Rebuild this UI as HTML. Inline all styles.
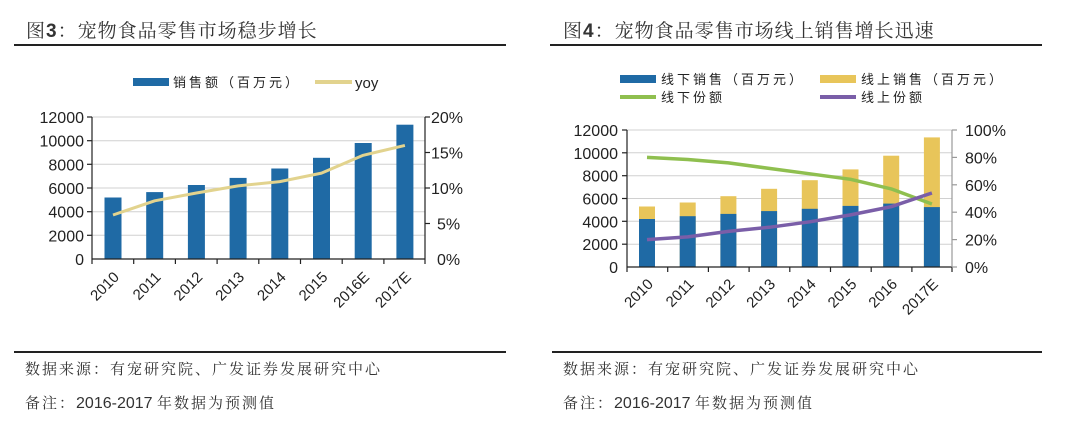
<!DOCTYPE html>
<html><head><meta charset="utf-8"><style>
body{margin:0;background:#fff;}
svg{display:block;font-family:"Liberation Sans","Noto Sans CJK SC",sans-serif;}
</style></head><body>
<svg width="1080" height="433" viewBox="0 0 1080 433" xmlns="http://www.w3.org/2000/svg">
<rect width="1080" height="433" fill="#fff"/>
<!-- Titles -->
<text x="26" y="37" font-size="19" fill="#333" font-family="'Noto Serif CJK SC','Noto Sans CJK SC',serif" letter-spacing="1">图<tspan font-weight="bold" font-family="'Liberation Sans',sans-serif">3</tspan>：宠物食品零售市场稳步增长</text>
<line x1="14" y1="45" x2="506" y2="45" stroke="#222" stroke-width="2"/>
<text x="563" y="37" font-size="19" fill="#333" font-family="'Noto Serif CJK SC','Noto Sans CJK SC',serif" letter-spacing="1">图<tspan font-weight="bold" font-family="'Liberation Sans',sans-serif">4</tspan>：宠物食品零售市场线上销售增长迅速</text>
<line x1="550" y1="45" x2="1042" y2="45" stroke="#222" stroke-width="2"/>

<!-- LEFT CHART -->
<g stroke="#d0d0d0" stroke-width="1">
<line x1="92" y1="235.3" x2="425" y2="235.3"/><line x1="92" y1="211.7" x2="425" y2="211.7"/><line x1="92" y1="188" x2="425" y2="188"/><line x1="92" y1="164.3" x2="425" y2="164.3"/><line x1="92" y1="140.7" x2="425" y2="140.7"/><line x1="92" y1="117" x2="425" y2="117"/>
</g>
<g fill="#1f6aa5">
<rect x="104.5" y="197.5" width="17" height="61.5"/>
<rect x="146.2" y="192.1" width="17" height="66.9"/>
<rect x="187.9" y="185" width="17" height="74"/>
<rect x="229.6" y="177.9" width="17" height="81.1"/>
<rect x="271.3" y="168.5" width="17" height="90.5"/>
<rect x="313" y="157.8" width="17" height="101.2"/>
<rect x="354.7" y="143" width="17" height="116"/>
<rect x="396.4" y="124.7" width="17" height="134.3"/>
</g>
<polyline points="113,215 154.7,200.8 196.4,193 238.1,185.9 279.8,181.6 321.5,173.1 363.2,155.3 404.9,145.4" fill="none" stroke="#e2d38e" stroke-width="3" stroke-linejoin="round"/>
<g stroke="#222" stroke-width="1.2">
<line x1="92" y1="117" x2="92" y2="259"/><line x1="425" y1="117" x2="425" y2="259"/><line x1="92" y1="259" x2="425" y2="259"/>
<line x1="92" y1="259" x2="92" y2="264"/><line x1="133.7" y1="259" x2="133.7" y2="264"/><line x1="175.4" y1="259" x2="175.4" y2="264"/><line x1="217.1" y1="259" x2="217.1" y2="264"/><line x1="258.8" y1="259" x2="258.8" y2="264"/><line x1="300.5" y1="259" x2="300.5" y2="264"/><line x1="342.2" y1="259" x2="342.2" y2="264"/><line x1="383.9" y1="259" x2="383.9" y2="264"/><line x1="425" y1="259" x2="425" y2="264"/>
<line x1="87" y1="117" x2="92" y2="117"/><line x1="87" y1="140.7" x2="92" y2="140.7"/><line x1="87" y1="164.3" x2="92" y2="164.3"/><line x1="87" y1="188" x2="92" y2="188"/><line x1="87" y1="211.7" x2="92" y2="211.7"/><line x1="87" y1="235.3" x2="92" y2="235.3"/>
<line x1="425" y1="117" x2="430" y2="117"/><line x1="425" y1="152.5" x2="430" y2="152.5"/><line x1="425" y1="188" x2="430" y2="188"/><line x1="425" y1="223.5" x2="430" y2="223.5"/>
</g>
<g font-size="16" fill="#222" text-anchor="end">
<text x="84" y="265">0</text><text x="84" y="241.3">2000</text><text x="84" y="217.7">4000</text><text x="84" y="194">6000</text><text x="84" y="170.3">8000</text><text x="84" y="146.7">10000</text><text x="84" y="123">12000</text>
</g>
<g font-size="16" fill="#222">
<text x="437" y="265">0%</text><text x="437" y="229.5">5%</text><text x="431" y="194">10%</text><text x="431" y="158.5">15%</text><text x="431" y="123">20%</text>
</g>
<g font-size="15" fill="#222" text-anchor="end">
<text transform="translate(120,278) rotate(-45)">2010</text>
<text transform="translate(161.7,278) rotate(-45)">2011</text>
<text transform="translate(203.4,278) rotate(-45)">2012</text>
<text transform="translate(245.1,278) rotate(-45)">2013</text>
<text transform="translate(286.8,278) rotate(-45)">2014</text>
<text transform="translate(328.5,278) rotate(-45)">2015</text>
<text transform="translate(370.2,278) rotate(-45)">2016E</text>
<text transform="translate(411.9,278) rotate(-45)">2017E</text>
</g>
<rect x="133" y="78" width="36" height="8" fill="#1f6aa5"/>
<text x="173" y="87" font-size="13" fill="#222" font-family="'Noto Sans CJK SC',sans-serif" letter-spacing="3">销售额（百万元）</text>
<line x1="315" y1="82" x2="352" y2="82" stroke="#e2d38e" stroke-width="4"/>
<text x="355" y="88" font-size="15" fill="#222">yoy</text>

<!-- RIGHT CHART -->
<g stroke="#d0d0d0" stroke-width="1">
<line x1="627" y1="244.2" x2="952" y2="244.2"/><line x1="627" y1="221.3" x2="952" y2="221.3"/><line x1="627" y1="198.5" x2="952" y2="198.5"/><line x1="627" y1="175.7" x2="952" y2="175.7"/><line x1="627" y1="152.8" x2="952" y2="152.8"/><line x1="627" y1="130" x2="952" y2="130"/>
</g>
<g fill="#e8c55a">
<rect x="639" y="206.5" width="16" height="60.5"/>
<rect x="679.7" y="202.5" width="16" height="64.5"/>
<rect x="720.4" y="196.2" width="16" height="70.8"/>
<rect x="761.1" y="188.8" width="16" height="78.2"/>
<rect x="801.8" y="180.2" width="16" height="86.8"/>
<rect x="842.5" y="169.4" width="16" height="97.6"/>
<rect x="883.2" y="155.7" width="16" height="111.3"/>
<rect x="923.9" y="137.4" width="16" height="129.6"/>
</g>
<g fill="#1f6aa5">
<rect x="639" y="219" width="16" height="48"/>
<rect x="679.7" y="216.2" width="16" height="50.8"/>
<rect x="720.4" y="213.9" width="16" height="53.1"/>
<rect x="761.1" y="211.1" width="16" height="55.9"/>
<rect x="801.8" y="208.8" width="16" height="58.2"/>
<rect x="842.5" y="205.9" width="16" height="61.1"/>
<rect x="883.2" y="203.6" width="16" height="63.4"/>
<rect x="923.9" y="207.1" width="16" height="59.9"/>
</g>
<polyline points="647,157.4 687.7,159.5 728.4,162.9 769.1,168.4 809.8,173.8 850.5,179.3 891.2,188.9 931.9,204" fill="none" stroke="#8fbf4f" stroke-width="3.5" stroke-linejoin="round"/>
<polyline points="647,239.6 687.7,236.9 728.4,231.4 769.1,227.3 809.8,221.8 850.5,214.9 891.2,206.7 931.9,193" fill="none" stroke="#7a5ea8" stroke-width="3.5" stroke-linejoin="round"/>
<g stroke="#222" stroke-width="1.2">
<line x1="627" y1="130" x2="627" y2="267"/><line x1="627" y1="267" x2="952" y2="267"/>
<line x1="627" y1="267" x2="627" y2="272"/><line x1="667.7" y1="267" x2="667.7" y2="272"/><line x1="708.4" y1="267" x2="708.4" y2="272"/><line x1="749.1" y1="267" x2="749.1" y2="272"/><line x1="789.8" y1="267" x2="789.8" y2="272"/><line x1="830.5" y1="267" x2="830.5" y2="272"/><line x1="871.2" y1="267" x2="871.2" y2="272"/><line x1="911.9" y1="267" x2="911.9" y2="272"/><line x1="952" y1="267" x2="952" y2="272"/>
<line x1="622" y1="130" x2="627" y2="130"/><line x1="622" y1="152.8" x2="627" y2="152.8"/><line x1="622" y1="175.7" x2="627" y2="175.7"/><line x1="622" y1="198.5" x2="627" y2="198.5"/><line x1="622" y1="221.3" x2="627" y2="221.3"/><line x1="622" y1="244.2" x2="627" y2="244.2"/>
</g>
<g stroke="#999" stroke-width="1.2">
<line x1="952" y1="130" x2="952" y2="267"/>
<line x1="952" y1="130" x2="957" y2="130"/><line x1="952" y1="157.4" x2="957" y2="157.4"/><line x1="952" y1="184.8" x2="957" y2="184.8"/><line x1="952" y1="212.2" x2="957" y2="212.2"/><line x1="952" y1="239.6" x2="957" y2="239.6"/><line x1="952" y1="267" x2="957" y2="267"/>
</g>
<g font-size="16" fill="#222" text-anchor="end">
<text x="618" y="273">0</text><text x="618" y="250.2">2000</text><text x="618" y="227.3">4000</text><text x="618" y="204.5">6000</text><text x="618" y="181.7">8000</text><text x="618" y="158.8">10000</text><text x="618" y="136">12000</text>
</g>
<g font-size="16" fill="#222">
<text x="965" y="273">0%</text><text x="965" y="245.6">20%</text><text x="965" y="218.2">40%</text><text x="965" y="190.8">60%</text><text x="965" y="163.4">80%</text><text x="965" y="136">100%</text>
</g>
<g font-size="15" fill="#222" text-anchor="end">
<text transform="translate(654,285) rotate(-45)">2010</text>
<text transform="translate(694.7,285) rotate(-45)">2011</text>
<text transform="translate(735.4,285) rotate(-45)">2012</text>
<text transform="translate(776.1,285) rotate(-45)">2013</text>
<text transform="translate(816.8,285) rotate(-45)">2014</text>
<text transform="translate(857.5,285) rotate(-45)">2015</text>
<text transform="translate(898.2,285) rotate(-45)">2016</text>
<text transform="translate(938.9,285) rotate(-45)">2017E</text>
</g>
<g font-size="13" fill="#222" font-family="'Noto Sans CJK SC',sans-serif" letter-spacing="3">
<rect x="620" y="75" width="36" height="8" fill="#1f6aa5"/>
<text x="661" y="84">线下销售（百万元）</text>
<rect x="820" y="75" width="36" height="8" fill="#e8c55a"/>
<text x="861" y="84">线上销售（百万元）</text>
<line x1="620" y1="97" x2="656" y2="97" stroke="#8fbf4f" stroke-width="4"/>
<text x="661" y="102">线下份额</text>
<line x1="820" y1="97" x2="856" y2="97" stroke="#7a5ea8" stroke-width="4"/>
<text x="861" y="102">线上份额</text>
</g>

<!-- Footers -->
<line x1="14" y1="352" x2="506" y2="352" stroke="#222" stroke-width="2"/>
<line x1="552" y1="352" x2="1042" y2="352" stroke="#222" stroke-width="2"/>
<g font-size="15" fill="#333" font-family="'Noto Serif CJK SC','Noto Sans CJK SC',serif" letter-spacing="2">
<text x="25" y="374">数据来源：有宠研究院、广发证券发展研究中心</text>
<text x="25" y="408">备注：<tspan font-family="'Liberation Sans',sans-serif" font-size="16" letter-spacing="0">2016-2017 </tspan>年数据为预测值</text>
<text x="563" y="374">数据来源：有宠研究院、广发证券发展研究中心</text>
<text x="563" y="408">备注：<tspan font-family="'Liberation Sans',sans-serif" font-size="16" letter-spacing="0">2016-2017 </tspan>年数据为预测值</text>
</g>
</svg>
</body></html>
